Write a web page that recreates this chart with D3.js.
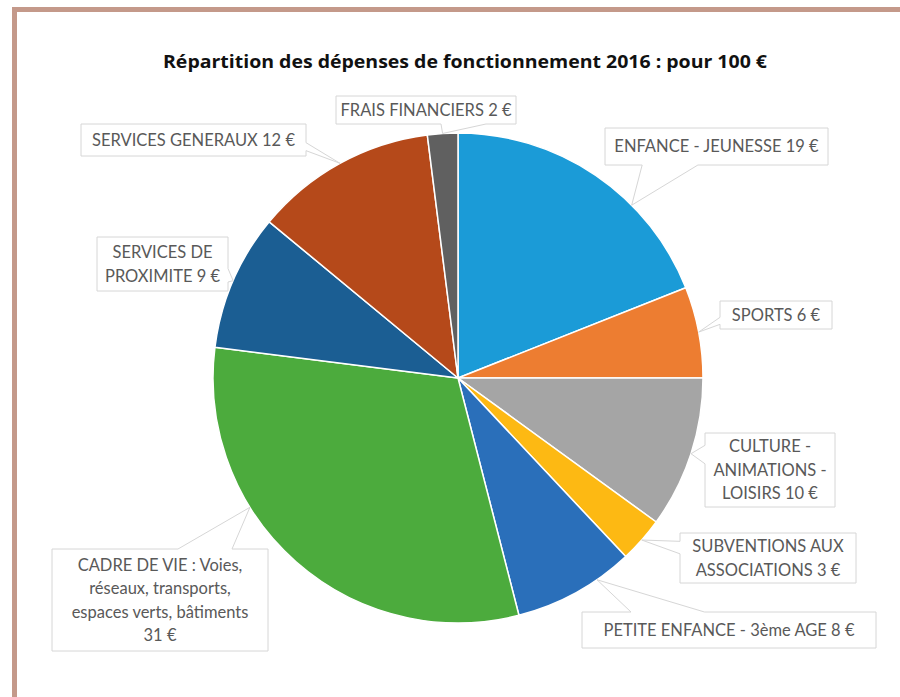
<!DOCTYPE html>
<html><head><meta charset="utf-8">
<script src="https://cdn.jsdelivr.net/npm/d3@7"></script>
<style>body{margin:0;background:#fff}svg{display:block}</style>
</head><body>
<svg id="chart" width="900" height="697"></svg>
<script>
// ---- data ----
const title = "Répartition des dépenses de fonctionnement 2016 : pour 100 €";
const categories = [
  "ENFANCE - JEUNESSE",
  "SPORTS",
  "CULTURE -\nANIMATIONS -\nLOISIRS",
  "SUBVENTIONS AUX\nASSOCIATIONS",
  "PETITE ENFANCE - 3ème AGE",
  "CADRE DE VIE : Voies,\nréseaux, transports,\nespaces verts, bâtiments\n",
  "SERVICES DE\nPROXIMITE",
  "SERVICES GENERAUX",
  "FRAIS FINANCIERS"
];
const values = [19, 6, 10, 3, 8, 31, 9, 12, 2];
const unit = "€";
const colors = ["#1b9bd7", "#ed7d31", "#a5a5a5", "#fdb913", "#2a6fba", "#4cab3d", "#1b5e93", "#b5491a", "#606060"];

// ---- layout (label boxes + where the pointer meets the slice, as a fraction of the slice) ----
const boxes = [
  {x:605, y:128, w:223, h:37, tip:0.66},
  {x:720, y:301, w:112, h:28, tip:0.5},
  {x:705, y:433, w:130, h:74, tip:0.5},
  {x:680, y:533, w:176, h:50, tip:0.5},
  {x:582, y:612, w:294, h:36, tip:0.3},
  {x:52,  y:549, w:216, h:102, tip:0.65},
  {x:97,  y:237, w:131, h:54, tip:0.5},
  {x:81,  y:124, w:225, h:32, tip:0.5},
  {x:336, y:96,  w:180, h:28, tip:0.5}
];

const W = 900, H = 697;
const cx = 458, cy = 378, R = 245;
const svg = d3.select("#chart");

// frame
svg.append("rect").attr("x", 14.5).attr("y", 9.5).attr("width", 920).attr("height", 720)
  .attr("fill", "none").attr("stroke", "#c4998a").attr("stroke-width", 5);

// title
svg.append("text").attr("x", 465).attr("y", 68).attr("text-anchor", "middle")
  .attr("font-family", "'Open Sans', Lato, sans-serif").attr("font-weight", "bold")
  .attr("font-size", 18).attr("fill", "#111")
  .attr("textLength", 604).attr("lengthAdjust", "spacingAndGlyphs").text(title);

// pie
const pie = d3.pie().sort(null).value(d => d).startAngle(0).endAngle(2 * Math.PI);
const arcs = pie(values);
const arc = d3.arc().innerRadius(0).outerRadius(R);
const g = svg.append("g").attr("transform", `translate(${cx},${cy})`);
g.selectAll("path").data(arcs).join("path")
  .attr("d", arc).attr("fill", (d, i) => colors[i])
  .attr("stroke", "#fff").attr("stroke-width", 1.5).attr("stroke-linejoin", "round");

// callouts
function calloutPath(b, tx, ty) {
  const L = b.x, T = b.y, Rr = b.x + b.w, B = b.y + b.h, mx = L + b.w / 2, my = T + b.h / 2;
  let edge;
  if (tx < L) edge = "left"; else if (tx > Rr) edge = "right"; else if (ty > B) edge = "bottom"; else edge = "top";
  if (edge === "top" || edge === "bottom") {
    const f = tx < mx ? [1/6, 5/12] : [7/12, 5/6];
    const x1 = L + f[0] * b.w, x2 = L + f[1] * b.w;
    if (edge === "top") return `M${L},${T}H${x1}L${tx},${ty}L${x2},${T}H${Rr}V${B}H${L}Z`;
    return `M${L},${T}H${Rr}V${B}H${x2}L${tx},${ty}L${x1},${B}H${L}Z`;
  } else {
    const f = ty < my ? [1/6, 5/12] : [7/12, 5/6];
    const y1 = T + f[0] * b.h, y2 = T + f[1] * b.h;
    if (edge === "right") return `M${L},${T}H${Rr}V${y1}L${tx},${ty}L${Rr},${y2}V${B}H${L}Z`;
    return `M${L},${T}H${Rr}V${B}H${L}V${y2}L${tx},${ty}L${L},${y1}Z`;
  }
}

const lab = svg.append("g");
arcs.forEach((d, i) => {
  const b = boxes[i];
  const a = d.startAngle + b.tip * (d.endAngle - d.startAngle);
  const tx = cx + R * Math.sin(a), ty = cy - R * Math.cos(a);
  lab.append("path").attr("d", calloutPath(b, tx, ty))
    .attr("fill", "#fff").attr("stroke", "#d6d6d6").attr("stroke-width", 1);
  const lines = (categories[i] + " " + values[i] + " " + unit).split("\n").map(s => s.trim());
  const lh = 23.5;
  const y0 = b.y + b.h / 2 - (lines.length - 1) * lh / 2;
  const t = lab.append("text").attr("text-anchor", "middle")
    .attr("font-family", "Lato, 'Open Sans', sans-serif").attr("font-size", 16.5).attr("fill", "#595959");
  lines.forEach((ln, k) => {
    t.append("tspan").attr("x", b.x + b.w / 2).attr("y", y0 + k * lh).attr("dy", "0.35em").text(ln);
  });
});
</script>
</body></html>
